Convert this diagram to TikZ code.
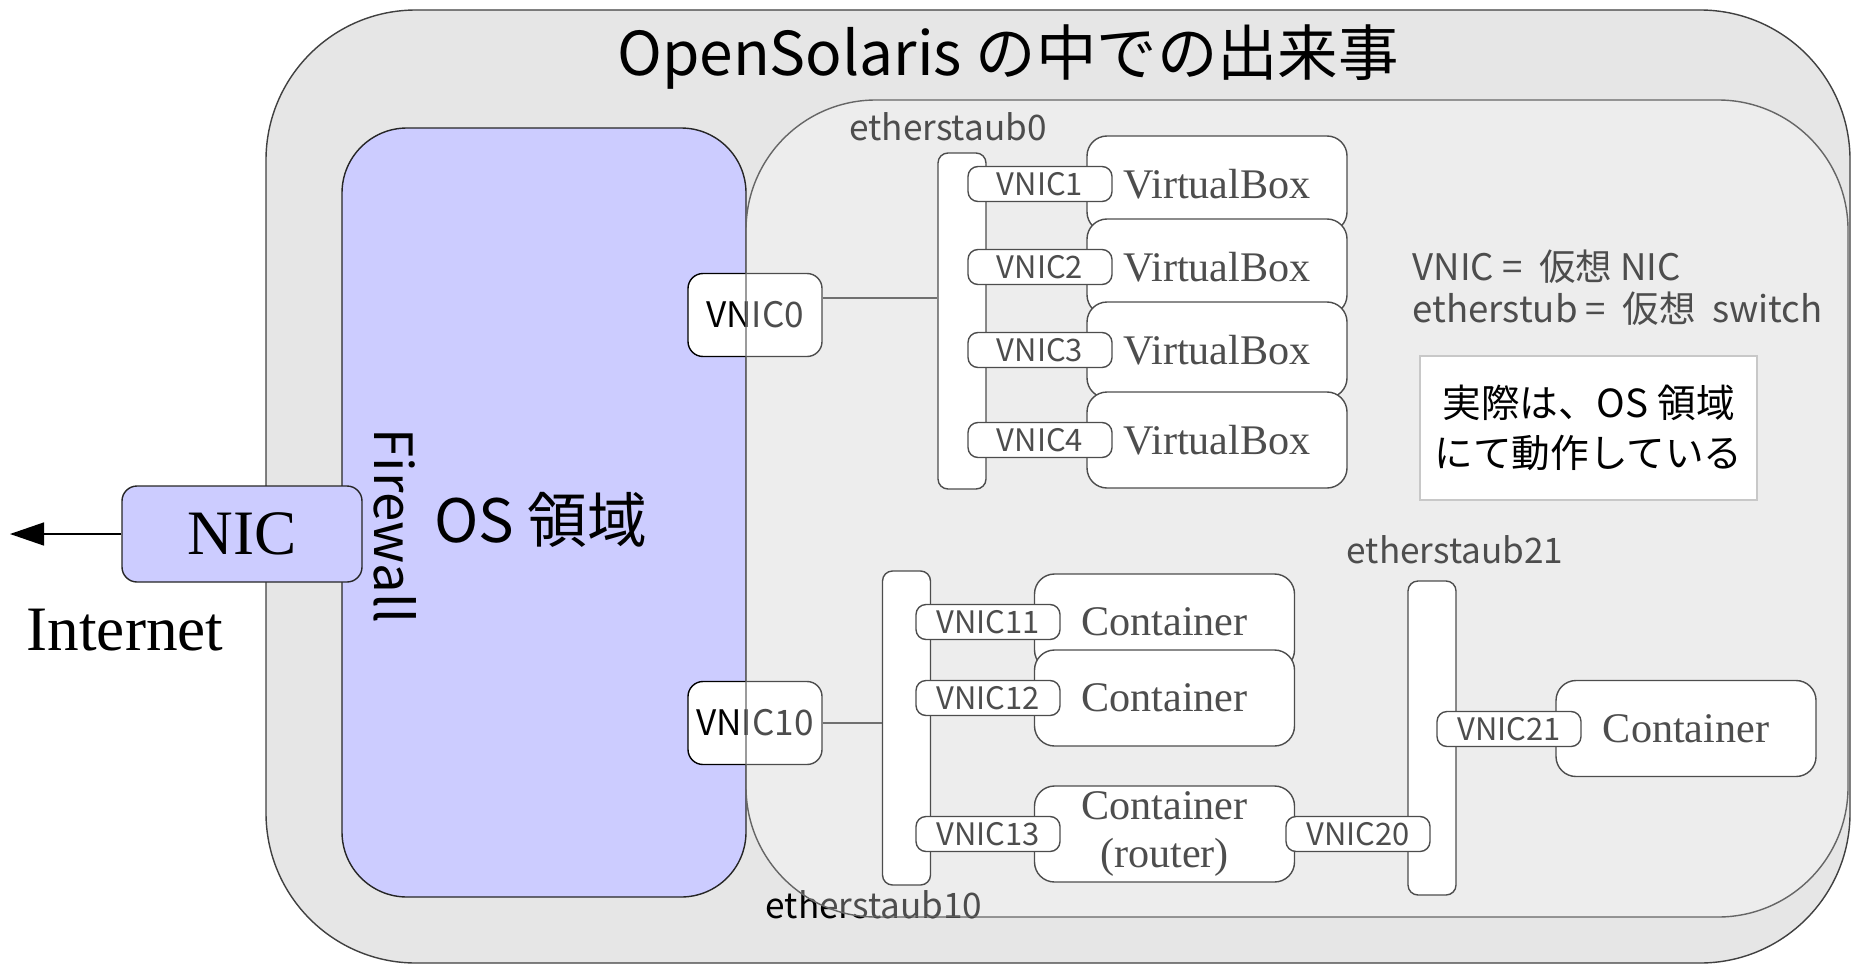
\documentclass[tikz,border=0pt]{standalone}
\usepackage{fontspec}
\setmainfont{Liberation Serif}
\newfontfamily\jp{Noto Sans CJK JP}
\usetikzlibrary{arrows.meta, positioning, calc}
\definecolor{osblue}{RGB}{204, 204, 255}
\definecolor{solgray}{RGB}{230, 230, 230}
\definecolor{notegray}{RGB}{200, 200, 200}

\begin{document}
\begin{tikzpicture}[
    area/.style={draw=black!75, fill=solgray, rounded corners=1.5cm, minimum width=15.84cm, minimum height=9.53cm},
    osarea/.style={draw=black!85, fill=osblue, rounded corners=0.65cm, minimum width=4.04cm, minimum height=7.69cm},
    zone/.style={draw=black!60, fill=white, fill opacity=0.3, rounded corners=1.3cm, minimum width=11.02cm, minimum height=8.17cm},
    bigvnic/.style={draw, fill=white, rounded corners=1.5mm, minimum width=1.34cm, minimum height=0.83cm, inner sep=0pt, font=\jp\fontsize{10}{12}\selectfont},
    vnic/.style={draw, fill=white, rounded corners=1mm, minimum width=1.44cm, minimum height=0.35cm, inner sep=0pt, font=\jp\fontsize{8.8}{10}\selectfont},
    stub/.style={draw, fill=white, rounded corners=1mm, minimum width=0.48cm, inner sep=0pt},
    stublabel/.style={font=\jp\fontsize{10}{12}\selectfont, anchor=base, inner sep=0pt},
    guest/.style={draw, fill=white, rounded corners=2mm, minimum width=2.6cm, minimum height=0.96cm, inner sep=0pt, align=center, font=\fontsize{12}{13.5}\selectfont},
    legend/.style={font=\jp\fontsize{10.4}{12}\selectfont, anchor=base west, inner sep=0pt},
    link/.style={draw=black!80, line width=0.4pt},
    arrow/.style={-{Triangle[length=3.4mm, width=2.3mm]}, line width=0.4pt}
]
\useasboundingbox (0,0) rectangle (18.54,9.66);

% OpenSolaris
\node[area] (sol) at (10.58,4.795) {};
\node[font=\jp\fontsize{17.2}{19}\selectfont] (title) at (10.08,9.09) {OpenSolaris の中での出来事};

% OS area
\node[osarea] (os) at (5.44,4.535) {};
\node[rotate=-90, font=\jp\fontsize{15}{17}\selectfont] (fw) at (3.95,4.40) {Firewall};
\node[font=\jp\fontsize{17}{19}\selectfont] (oslabel) at (5.41,4.465) {OS 領域};

% NIC and Internet
\node[draw=black!85, fill=osblue, rounded corners=1.5mm, minimum width=2.4cm, minimum height=0.96cm, font=\fontsize{18}{20}\selectfont] (nic) at (2.42,4.32) {NIC};
\coordinate (net) at (0.1,4.32);
\draw[arrow] (nic.west) -- (net);
\node[font=\fontsize{18}{20}\selectfont] (inet) at (1.25,3.36) {Internet};

% VNICs of the OS
\node[bigvnic] (vnic0) at (7.55,6.51) {VNIC0};
\node[bigvnic] (vnic10) at (7.55,2.43) {VNIC10};

% etherstub0 and VirtualBoxes
\node[stub, minimum height=3.36cm] (stub0) at (9.62,6.45) {};
\node[stublabel] (stub0label) at (9.48,8.26) {etherstaub0};
\foreach \i/\y in {1/7.82, 2/6.99, 3/6.16, 4/5.26} {
    \node[guest] (vb\i) at (12.17,\y) {VirtualBox};
    \node[vnic] (vnic\i) at (10.40,\y) {VNIC\i};
}

% etherstub10 and containers
\node[stub, minimum height=3.14cm] (stub10) at (9.065,2.38) {};
\node[stublabel] (stub10label) at (8.74,0.48) {etherstaub10};
\node[guest] (ct1) at (11.645,3.44) {Container};
\node[vnic] (vnic11) at (9.88,3.44) {VNIC11};
\node[guest] (ct2) at (11.645,2.68) {Container};
\node[vnic] (vnic12) at (9.88,2.68) {VNIC12};
\node[guest] (router) at (11.645,1.32) {Container\\(router)};
\node[vnic] (vnic13) at (9.88,1.32) {VNIC13};

% etherstub21
\node[stub, minimum height=3.14cm] (stub21) at (14.32,2.28) {};
\node[stublabel] (stub21label) at (14.55,4.03) {etherstaub21};
\node[vnic] (vnic20) at (13.58,1.32) {VNIC20};
\node[guest] (ct3) at (16.86,2.375) {Container};
\node[vnic] (vnic21) at (15.09,2.37) {VNIC21};

% Links
\coordinate (l0) at ($(vnic0.east)+(0,0.17)$);
\draw[link] (l0) -- (l0 -| stub0.west);
\draw[link] (vnic10.east) -- (vnic10.east -| stub10.west);

% Legend
\node[legend] (leg1) at (14.12,6.86) {VNIC =\ \ 仮想 NIC};
\node[legend] (leg2) at (14.12,6.44) {etherstub =\ \ 仮想\ \ switch};

% etherstub area
\node[zone] (zone) at (12.97,4.575) {};

% Note
\node[draw=notegray, fill=white, minimum width=3.37cm, minimum height=1.44cm, align=center, font=\jp\fontsize{11}{14}\selectfont] (note) at (15.885,5.38) {実際は、OS 領域\\にて動作している};

\end{tikzpicture}
\end{document}
